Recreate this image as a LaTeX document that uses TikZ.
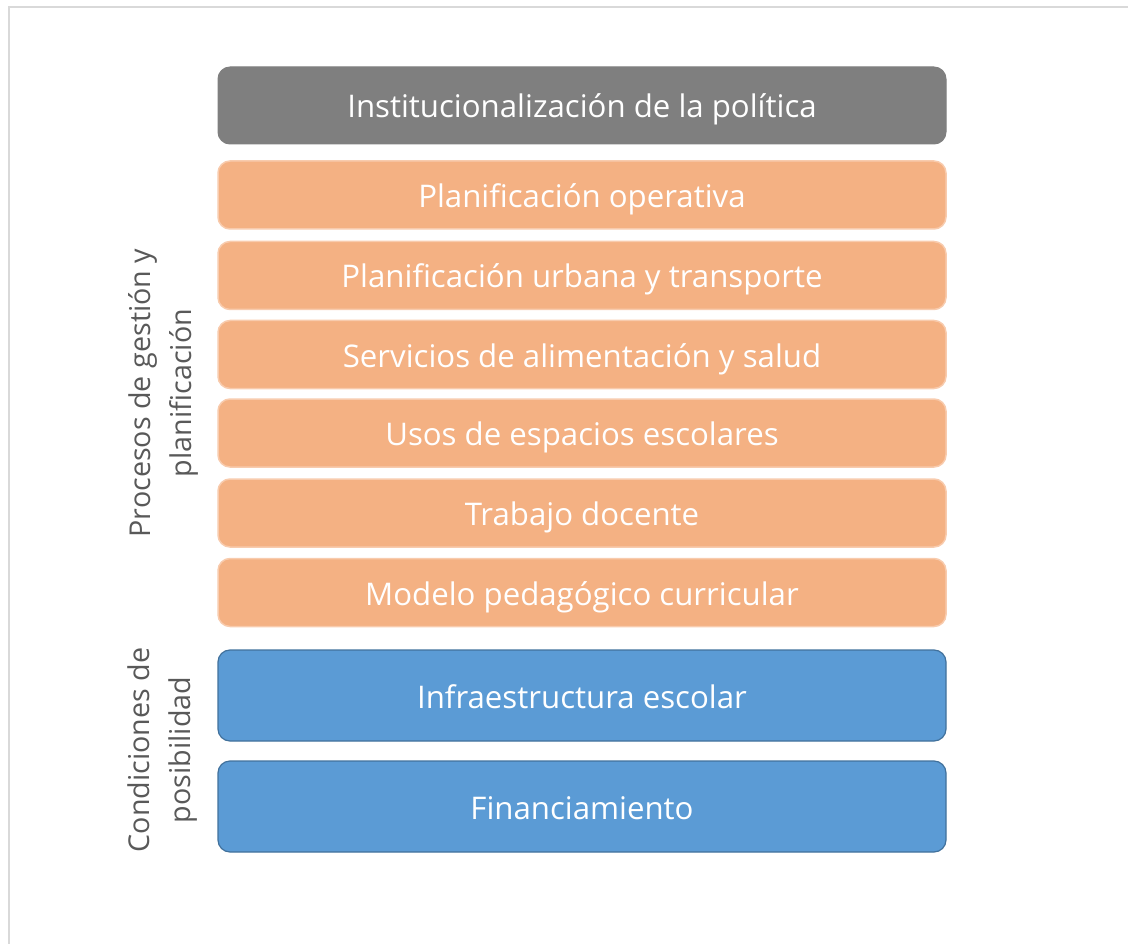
\documentclass[tikz,border=0pt]{standalone}
\usepackage{fontspec}
\setmainfont{Open Sans}
\definecolor{gbox}{HTML}{7F7F7F}
\definecolor{obox}{HTML}{F4B183}
\definecolor{oline}{HTML}{F8CBAD}
\definecolor{bbox}{HTML}{5B9BD5}
\definecolor{bline}{HTML}{41719C}
\definecolor{frame}{HTML}{D9D9D9}
\definecolor{lbl}{HTML}{595959}
\tikzset{
  layer/.style={rectangle, rounded corners=12pt, minimum width=728pt, text=white,
    font=\fontsize{31.2}{36}\selectfont, inner sep=0pt, text height=25pt, text depth=0pt},
  graybox/.style={layer, fill=gbox, draw=gbox, line width=1pt, minimum height=77pt},
  orangebox/.style={layer, fill=obox, draw=oline, line width=1.5pt, minimum height=68pt},
  bluebox/.style={layer, fill=bbox, draw=bline, line width=1.2pt, minimum height=91pt},
  sidelabel/.style={rotate=90, align=center, text=lbl, font=\fontsize{28.7}{41}\selectfont, inner sep=0pt}
}
\begin{document}
\begin{tikzpicture}[x=1pt, y=-1pt]
\useasboundingbox (0,0) rectangle (1128,944);
\draw[frame, line width=1.2pt] (9,960) -- (9,7) -- (1140,7);
\node[graybox] (inst) at (582,105.5) {Institucionalización de la política};
\node[orangebox] (o1) at (582,195) {Planificación operativa};
\node[orangebox] (o2) at (582,275.5) {Planificación urbana y transporte};
\node[orangebox] (o3) at (582,354.5) {Servicios de alimentación y salud};
\node[orangebox] (o4) at (582,433) {Usos de espacios escolares};
\node[orangebox] (o5) at (582,513) {Trabajo docente};
\node[orangebox] (o6) at (582,592.5) {Modelo pedagógico curricular};
\node[bluebox] (b1) at (582,695.5) {Infraestructura escolar};
\node[bluebox] (b2) at (582,806.5) {Financiamiento};
\node[sidelabel] (lp) at (163,393) {Procesos de gestión y\\planificación};
\node[sidelabel] (lc) at (163,750) {Condiciones de\\posibilidad};
\end{tikzpicture}
\end{document}
